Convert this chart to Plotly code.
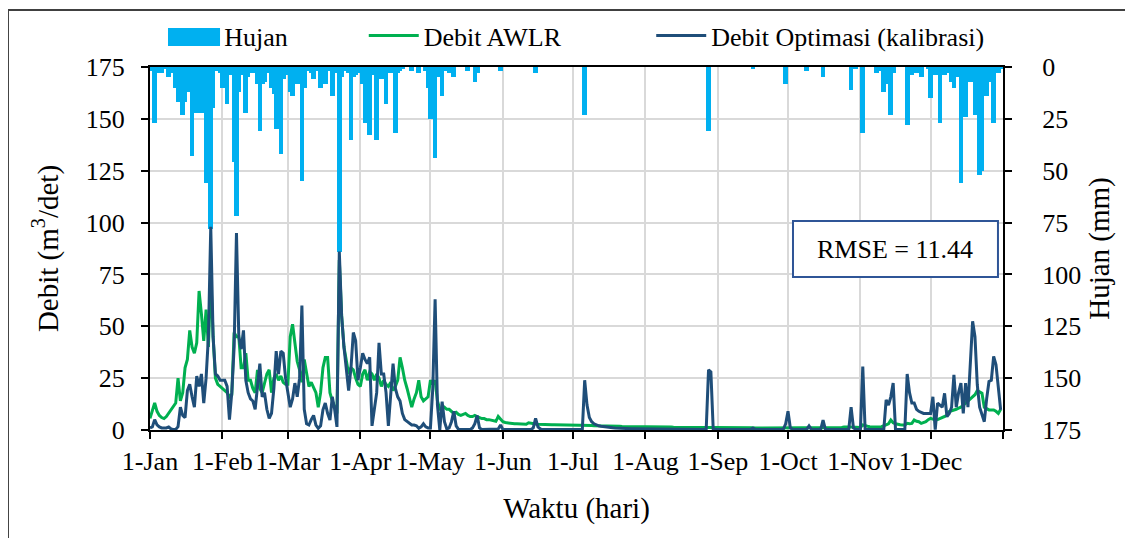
import pandas as pd
import plotly.graph_objects as go

days = pd.date_range("2021-01-01", "2021-12-31", freq="D")

# Hujan (mm) per day, by month
hujan_jan = [2, 1, 27, 3, 0, 3, 1, 0, 5, 0, 3, 10, 17, 12, 23, 17, 12, 8, 43, 7, 22, 10, 22, 8, 56, 25, 78, 20, 2, 0, 3]
hujan_feb = [10, 3, 18, 4, 3, 46, 72, 12, 4, 4, 22, 5, 3, 2, 3, 8, 31, 8, 7, 3, 1, 10, 13, 30, 25, 42, 6, 3]
hujan_mar = [4, 12, 14, 6, 8, 3, 55, 10, 2, 0, 3, 6, 2, 0, 10, 3, 8, 2, 0, 14, 3, 2, 89, 5, 2, 0, 3, 35, 5, 4, 0]
hujan_apr = [3, 8, 27, 5, 33, 4, 3, 35, 5, 6, 3, 18, 3, 2, 3, 32, 3, 2, 1, 0, 0, 0, 2, 0, 0, 3, 0, 0, 2, 10]
hujan_may = [25, 8, 44, 5, 3, 14, 2, 0, 3, 2, 5, 0, 0, 0, 0, 0, 2, 0, 0, 7, 3, 0, 0, 0, 0, 0, 0, 0, 0, 0, 2]
hujan_jun = [0, 0, 0, 0, 0, 0, 0, 0, 0, 0, 0, 0, 0, 0, 3, 0, 0, 0, 0, 0, 0, 0, 0, 0, 0, 0, 0, 0, 0, 0]
hujan_jul = [0, 0, 0, 0, 0, 23, 0, 0, 0, 0, 0, 0, 0, 0, 0, 0, 0, 0, 0, 0, 0, 0, 0, 0, 0, 0, 0, 0, 0, 0, 0]
hujan_aug = [0, 0, 0, 0, 0, 0, 0, 0, 0, 0, 0, 0, 0, 0, 0, 0, 0, 0, 0, 0, 0, 0, 0, 0, 0, 0, 0, 31, 0, 0, 0]
hujan_sep = [0, 0, 0, 0, 0, 0, 0, 0, 0, 0, 0, 0, 0, 0, 0, 1, 0, 0, 0, 0, 0, 0, 0, 0, 0, 0, 0, 0, 0, 8]
hujan_oct = [0, 0, 0, 0, 0, 0, 0, 0, 2, 0, 0, 0, 0, 0, 0, 5, 0, 0, 0, 0, 0, 0, 0, 0, 0, 0, 0, 11, 0, 1, 0]
hujan_nov = [0, 32, 0, 0, 0, 0, 0, 3, 0, 2, 12, 8, 0, 23, 3, 0, 0, 0, 0, 0, 28, 0, 4, 0, 3, 0, 5, 0, 0, 1]
hujan_dec = [15, 2, 4, 1, 27, 3, 4, 2, 3, 7, 10, 5, 3, 56, 10, 24, 4, 7, 3, 23, 10, 52, 50, 8, 14, 7, 4, 27, 3, 3, 1]

# Debit AWLR (m3/det)
awlr_jan = [5.6, 9, 13, 9, 7, 6, 5.5, 6.5, 8, 9.5, 11, 13, 25, 14, 18, 30, 34, 48, 40, 37, 42, 67, 56, 43, 58, 40, 75, 45, 25, 22, 21]
awlr_feb = [20, 19, 18, 16, 17, 47, 45, 45, 30, 30, 37, 24, 24, 20, 18, 29, 20, 18, 22, 27, 29, 18, 25, 27, 24, 26, 23, 22]
awlr_mar = [22, 45, 51, 42, 33, 29, 23, 34, 28, 21, 23, 20, 18, 11, 18, 30, 35, 35, 18, 14, 11, 8, 82, 55, 40, 33, 27, 30, 29, 25, 22]
awlr_apr = [21, 27, 29, 24, 28, 27, 24, 27, 25, 21, 24, 22, 21, 23, 19, 21, 24, 35, 30, 24, 20, 15, 11, 15, 18, 24, 16, 14, 15, 16]
awlr_may = [24, 22, 24, 14, 10, 10, 11, 10, 10, 9, 8, 8.5, 7.5, 7, 7.5, 8, 7, 6.5, 6.5, 7, 6.5, 6, 5.5, 5.5, 5, 5, 4.8, 4.5, 4.2, 6.5, 5]
awlr_jun = [4, 3.6, 3.4, 3.2, 3.1, 3, 3, 2.9, 2.9, 2.8, 2.8, 3.5, 3.2, 3, 2.9, 2.8, 2.7, 2.7, 2.6, 2.6, 2.6, 2.5, 2.5, 2.5, 2.4, 2.4, 2.4, 2.3, 2.3, 2.3]
awlr_jul = [2.3, 2.3, 2.2, 2.2, 2.2, 2.3, 2.4, 2.3, 2.2, 2.1, 2.1, 2.0, 2.0, 2.0, 1.9, 1.9, 1.9, 1.8, 1.8, 1.8, 1.8, 1.7, 1.7, 1.7, 1.7, 1.6, 1.6, 1.6, 1.6, 1.6, 1.5]
awlr_aug = [1.5, 1.5, 1.5, 1.5, 1.5, 1.4, 1.4, 1.4, 1.4, 1.4, 1.4, 1.4, 1.3, 1.3, 1.3, 1.3, 1.3, 1.3, 1.3, 1.3, 1.2, 1.2, 1.2, 1.2, 1.2, 1.2, 1.2, 1.3, 1.4, 1.3, 1.2]
awlr_sep = [1.2, 1.2, 1.2, 1.2, 1.2, 1.1, 1.1, 1.1, 1.1, 1.1, 1.1, 1.1, 1.1, 1.1, 1.1, 1.1, 1.0, 1.0, 1.0, 1.0, 1.0, 1.0, 1.0, 1.0, 1.0, 1.0, 1.0, 1.0, 1.0, 1.1]
awlr_oct = [1.0, 1.0, 1.0, 1.0, 1.0, 1.0, 1.0, 1.0, 1.1, 1.0, 1.0, 1.0, 1.0, 1.0, 1.2, 1.1, 1.0, 1.0, 1.0, 1.0, 1.0, 1.0, 1.0, 1.2, 1.4, 1.6, 1.5, 1.4, 1.3, 1.3, 1.2]
awlr_nov = [1.2, 2.4, 2.0, 1.8, 1.6, 1.5, 1.5, 1.4, 1.4, 1.6, 2.0, 2.6, 3.0, 4.8, 3.5, 3.0, 2.6, 2.5, 2.4, 2.4, 3.2, 3.0, 3.2, 4.8, 4.2, 4.0, 3.2, 3.6, 4.0, 5.0]
awlr_dec = [5.6, 5.2, 4.8, 5.0, 5.6, 5.8, 6.5, 7.0, 8.9, 9.2, 9.7, 10, 10.5, 11, 12, 13, 14, 15.3, 16, 17, 19, 18.5, 17.7, 11, 10.5, 9.7, 9.7, 9.7, 9, 8, 10]

# Debit Optimasi (kalibrasi) (m3/det)
opt_jan = [1, 1.5, 5, 2.5, 1.5, 1, 1, 1, 1.5, 0.5, 0.3, 0.3, 1.6, 11, 7, 6, 19, 22, 16, 11, 26, 21, 27, 13, 25, 45, 98, 45, 27, 26, 24]
opt_feb = [24, 24, 21, 5, 18, 40, 95, 45, 39, 48, 24, 18, 15, 14, 10, 20, 32, 16, 18, 10, 5.6, 8, 20, 38, 27, 38, 37, 25]
opt_mar = [17.7, 11, 15, 22.6, 16, 25, 60, 10, 3, 2.4, 5, 7, 2.4, 0.8, 2, 9.7, 13, 8, 4.8, 16, 10, 1.5, 86, 55, 40, 30, 19, 30, 47, 43, 24]
opt_apr = [30, 37, 34, 32, 35, 2, 10, 18, 42, 27, 27, 18, 2, 15, 32, 20, 16, 14, 8, 5, 4, 3, 2.4, 2.4, 2, 0.8, 1.5, 3, 1.5, 1]
opt_may = [1, 20, 63, 12, 0, 13.7, 4, 0.5, 1, 4, 9, 2, 0.3, 0.2, 0.2, 0.2, 0.2, 0.2, 1, 3, 7, 1, 0.2, 0.2, 0.2, 0.2, 0.2, 0.2, 0.2, 0.5, 2.4]
opt_jun = [0.3, 0.2, 0.2, 0.2, 0.2, 0.2, 0.2, 0.2, 0.2, 0.2, 0.2, 0.2, 0.2, 1, 5.6, 1.5, 0.5, 0.2, 0.2, 0.2, 0.2, 0.2, 0.2, 0.2, 0.2, 0.2, 0.2, 0.2, 0.2, 0.2]
opt_jul = [0.2, 0.2, 0.2, 0.2, 0.2, 24, 12, 6, 4, 3, 2.4, 2, 1.8, 1.6, 1.5, 1.3, 1.2, 1.1, 1, 0.9, 0.9, 0.8, 0.8, 0.7, 0.7, 0.6, 0.6, 0.6, 0.5, 0.5, 0.5]
opt_aug = [0.5, 0.4, 0.3, 0.3, 0.3, 0.3, 0.3, 0.3, 0.3, 0.3, 0.3, 0.3, 0.3, 0.3, 0.3, 0.3, 0.3, 0.3, 0.3, 0.3, 0.3, 0.3, 0.3, 0.3, 0.3, 0.3, 0.3, 29, 28, 0.5, 0.3]
opt_sep = [0.3, 0.3, 0.3, 0.3, 0.3, 0.3, 0.3, 0.3, 0.3, 0.3, 0.3, 0.3, 0.3, 0.3, 0.3, 0.9, 0.3, 0.3, 0.3, 0.3, 0.3, 0.3, 0.3, 0.3, 0.3, 0.3, 0.3, 0.3, 0.3, 3]
opt_oct = [9, 1, 0.3, 0.3, 0.3, 0.3, 0.3, 0.3, 0.3, 2, 0.3, 0.3, 0.3, 0.3, 0.3, 4.8, 0.3, 0.3, 0.3, 0.3, 0.3, 0.3, 0.3, 0.3, 0.3, 0.3, 0.3, 11, 1, 0.3, 0.3]
opt_nov = [0.3, 30.6, 0.3, 0.3, 0.3, 0.3, 0.3, 0.3, 0.3, 0.3, 0.3, 14.5, 12, 16, 22.6, 0.3, 0.3, 0.3, 0.3, 0.3, 27, 18, 13, 13, 10, 9, 8.5, 8, 8, 8]
opt_dec = [8, 16, 0.2, 13, 12, 11, 17.7, 6.5, 8, 11, 26.6, 11, 18, 22.6, 8, 22.6, 11, 30, 52.4, 45, 21.8, 11, 7, 4, 15, 23.4, 24, 35.5, 31.5, 20, 9.7]

hujan = (hujan_jan + hujan_feb + hujan_mar + hujan_apr + hujan_may + hujan_jun
         + hujan_jul + hujan_aug + hujan_sep + hujan_oct + hujan_nov + hujan_dec)
debit_awlr = (awlr_jan + awlr_feb + awlr_mar + awlr_apr + awlr_may + awlr_jun
              + awlr_jul + awlr_aug + awlr_sep + awlr_oct + awlr_nov + awlr_dec)
debit_opt = (opt_jan + opt_feb + opt_mar + opt_apr + opt_may + opt_jun
             + opt_jul + opt_aug + opt_sep + opt_oct + opt_nov + opt_dec)
assert len(hujan) == 365, len(hujan)
assert len(debit_awlr) == 365, len(debit_awlr)
assert len(debit_opt) == 365, len(debit_opt)

month_ticks = ["2021-01-01", "2021-02-01", "2021-03-01", "2021-04-01", "2021-05-01", "2021-06-01",
               "2021-07-01", "2021-08-01", "2021-09-01", "2021-10-01", "2021-11-01", "2021-12-01",
               "2022-01-01"]
month_labels = ["1-Jan", "1-Feb", "1-Mar", "1-Apr", "1-May", "1-Jun", "1-Jul", "1-Aug",
                "1-Sep", "1-Oct", "1-Nov", "1-Dec", " "]
y_ticks = [0, 25, 50, 75, 100, 125, 150, 175]

FONT = "Liberation Serif"
DAY_MS = 86400000
RAIN_COLOR = "#00B0F0"

fig = go.Figure()
fig.add_trace(go.Bar(
    x=days, y=hujan, name="Hujan", yaxis="y", legend="legend", showlegend=True,
    marker=dict(color=RAIN_COLOR, line=dict(width=0)), width=2.0 * DAY_MS,
))
fig.add_trace(go.Scatter(
    x=days, y=debit_awlr, name="Debit AWLR", mode="lines", yaxis="y2", legend="legend2",
    showlegend=True, line=dict(color="#00B050", width=3),
))
fig.add_trace(go.Scatter(
    x=days, y=debit_opt, name="Debit Optimasi (kalibrasi)", mode="lines", yaxis="y2",
    legend="legend3", showlegend=True, line=dict(color="#1F4E79", width=3),
))

axis_common = dict(showline=True, linecolor="black", linewidth=2, ticks="outside",
                   ticklen=7, tickwidth=2, tickcolor="black", zeroline=False,
                   tickfont=dict(size=26, color="black", family=FONT))

legend_common = dict(orientation="h", yanchor="middle", y=1.0868, xanchor="left",
                     bgcolor="rgba(0,0,0,0)", font=dict(size=26, family=FONT, color="black"),
                     visible=True, itemwidth=50)

# The page has an 8px body margin, so the figure is sized/margined to keep the
# plot area at x 150-1003, y 67-430 in the window.
fig.update_layout(
    width=1125, height=530,
    margin=dict(l=142, r=130, t=59, b=108, autoexpand=False),
    paper_bgcolor="white", plot_bgcolor="white",
    font=dict(family=FONT, size=26, color="black"),
    showlegend=True,
    bargap=0,
    xaxis=dict(type="date", range=["2021-01-01", "2022-01-01"], tickvals=month_ticks,
               ticktext=month_labels, showgrid=True, gridcolor="#D9D9D9", gridwidth=1.5,
               mirror=True, ticklabelstandoff=0,
               title=dict(text="Waktu (hari)", font=dict(size=29, family=FONT), standoff=22),
               **axis_common),
    yaxis=dict(side="right", range=[175, 0], tickvals=y_ticks, showgrid=True,
               gridcolor="#D9D9D9", gridwidth=1.5, ticklabelstandoff=25,
               title=dict(text="Hujan (mm)", font=dict(size=29, family=FONT), standoff=8),
               **axis_common),
    yaxis2=dict(side="left", overlaying="y", range=[0, 175], tickvals=y_ticks, showgrid=False,
                ticklabelstandoff=11,
                title=dict(text="Debit (m<sup>3</sup>/det)", font=dict(size=29, family=FONT), standoff=19),
                **axis_common),
    legend=dict(x=0.0167, **legend_common),
    legend2=dict(x=0.2506, **legend_common),
    legend3=dict(x=0.5876, **legend_common),
    shapes=[
        # outer chart frame
        dict(type="rect", xref="paper", yref="paper", x0=-0.1665, x1=1.25, y0=-0.5, y1=1.157,
             line=dict(color="#404040", width=2), fillcolor="rgba(0,0,0,0)", layer="below"),
        # wide key swatch behind the "Hujan" legend marker
        dict(type="rect", xref="paper", yref="paper", x0=0.0211, x1=0.0821, y0=1.0579, y1=1.1074,
             line=dict(width=0), fillcolor=RAIN_COLOR, layer="above"),
        # RMSE box
        dict(type="rect", xref="paper", yref="paper", x0=0.7538, x1=0.9941, y0=0.4215, y1=0.5758,
             line=dict(color="#2F5597", width=2), fillcolor="white", layer="above"),
    ],
    annotations=[
        dict(text="RMSE = 11.44", xref="paper", yref="paper", x=0.8734, y=0.4986,
             showarrow=False, font=dict(size=26, family=FONT, color="black"),
             xanchor="center", yanchor="middle"),
    ],
)

fig.write_html("out.html")
